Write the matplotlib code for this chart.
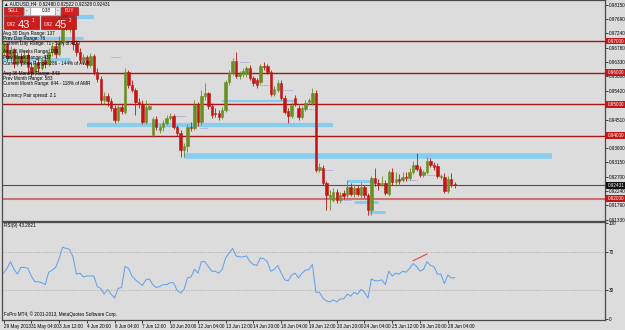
import numpy as np
import matplotlib.pyplot as plt
import matplotlib.transforms as mtransforms
from matplotlib.patches import Rectangle

# AUDUSD H4 candles, 29 May - 28 Jun 2013
opens = [0.9665, 0.9691, 0.9646, 0.9672, 0.9630, 0.9652, 0.9633, 0.9656, 0.9618, 0.9602,
         0.9630, 0.9614, 0.9640, 0.9627, 0.9665, 0.9684, 0.9659, 0.9697, 0.9786, 0.9748,
         0.9773, 0.9691, 0.9665, 0.9640, 0.9649, 0.9624, 0.9652, 0.9602, 0.9580, 0.9513,
         0.9526, 0.9510, 0.9488, 0.9450, 0.9491, 0.9475, 0.9602, 0.9561, 0.9545, 0.9507,
         0.9500, 0.9443, 0.9485, 0.9402, 0.9453, 0.9418, 0.9427, 0.9440, 0.9456, 0.9462,
         0.9427, 0.9408, 0.9355, 0.9367, 0.9427, 0.9424, 0.9497, 0.9443, 0.9526, 0.9535,
         0.9494, 0.9472, 0.9472, 0.9459, 0.9481, 0.9570, 0.9599, 0.9637, 0.9589, 0.9595,
         0.9595, 0.9614, 0.9583, 0.9576, 0.9570, 0.9621, 0.9621, 0.9602, 0.9532, 0.9545,
         0.9567, 0.9519, 0.9478, 0.9462, 0.9519, 0.9488, 0.9459, 0.9485, 0.9507, 0.9504,
         0.9535, 0.9291, 0.9297, 0.9250, 0.9206, 0.9196, 0.9221, 0.9196, 0.9218, 0.9212,
         0.9237, 0.9215, 0.9234, 0.9212, 0.9237, 0.9212, 0.9164, 0.9266, 0.9250, 0.9247,
         0.9250, 0.9215, 0.9285, 0.9253, 0.9263, 0.9259, 0.9269, 0.9266, 0.9285, 0.9307,
         0.9294, 0.9275, 0.9285, 0.9320, 0.9307, 0.9304, 0.9269, 0.9269, 0.9225, 0.9263,
         0.9248]
highs = [0.9703, 0.9697, 0.9684, 0.9678, 0.9665, 0.9662, 0.9672, 0.9665, 0.9633, 0.9640,
         0.9646, 0.9652, 0.9656, 0.9678, 0.9703, 0.9697, 0.9716, 0.9805, 0.9811, 0.9798,
         0.9792, 0.9703, 0.9678, 0.9659, 0.9656, 0.9662, 0.9659, 0.9614, 0.9589, 0.9538,
         0.9535, 0.9519, 0.9497, 0.9500, 0.9500, 0.9614, 0.9608, 0.9576, 0.9551, 0.9519,
         0.9513, 0.9513, 0.9504, 0.9459, 0.9462, 0.9437, 0.9450, 0.9465, 0.9472, 0.9469,
         0.9434, 0.9418, 0.9377, 0.9437, 0.9443, 0.9513, 0.9507, 0.9545, 0.9567, 0.9538,
         0.9504, 0.9488, 0.9481, 0.9491, 0.9576, 0.9608, 0.9646, 0.9665, 0.9605, 0.9614,
         0.9621, 0.9624, 0.9589, 0.9583, 0.9627, 0.9633, 0.9627, 0.9608, 0.9557, 0.9576,
         0.9576, 0.9529, 0.9488, 0.9507, 0.9529, 0.9497, 0.9494, 0.9513, 0.9519, 0.9551,
         0.9545, 0.9313, 0.9307, 0.9256, 0.9228, 0.9234, 0.9231, 0.9221, 0.9228, 0.9259,
         0.9250, 0.9247, 0.9244, 0.9253, 0.9244, 0.9218, 0.9272, 0.9297, 0.9263, 0.9272,
         0.9259, 0.9291, 0.9297, 0.9285, 0.9278, 0.9285, 0.9285, 0.9297, 0.9320, 0.9345,
         0.9304, 0.9291, 0.9332, 0.9329, 0.9316, 0.9313, 0.9278, 0.9282, 0.9272, 0.9282,
         0.92522]
lows = [0.9652, 0.9633, 0.9633, 0.9614, 0.9621, 0.9621, 0.9627, 0.9602, 0.9583, 0.9592,
        0.9602, 0.9608, 0.9614, 0.9621, 0.9652, 0.9646, 0.9652, 0.9684, 0.9735, 0.9729,
        0.9672, 0.9652, 0.9630, 0.9627, 0.9614, 0.9618, 0.9592, 0.9570, 0.9500, 0.9500,
        0.9494, 0.9478, 0.9440, 0.9443, 0.9469, 0.9469, 0.9551, 0.9538, 0.9465, 0.9488,
        0.9437, 0.9437, 0.9481, 0.9396, 0.9418, 0.9408, 0.9415, 0.9434, 0.9450, 0.9421,
        0.9399, 0.9332, 0.9332, 0.9348, 0.9415, 0.9418, 0.9431, 0.9434, 0.9513, 0.9485,
        0.9456, 0.9459, 0.9450, 0.9453, 0.9475, 0.9561, 0.9592, 0.9583, 0.9580, 0.9586,
        0.9586, 0.9576, 0.9557, 0.9551, 0.9564, 0.9608, 0.9595, 0.9526, 0.9526, 0.9538,
        0.9513, 0.9469, 0.9440, 0.9456, 0.9494, 0.9450, 0.9453, 0.9478, 0.9500, 0.9497,
        0.9285, 0.9285, 0.9244, 0.9164, 0.9164, 0.9190, 0.9186, 0.9186, 0.9199, 0.9202,
        0.9209, 0.9206, 0.9209, 0.9202, 0.9202, 0.9148, 0.9148, 0.9240, 0.9228, 0.9240,
        0.9212, 0.9209, 0.9244, 0.9240, 0.9247, 0.9253, 0.9256, 0.9259, 0.9278, 0.9288,
        0.9269, 0.9269, 0.9278, 0.9301, 0.9291, 0.9266, 0.9263, 0.9218, 0.9218, 0.9237,
        0.92328]
closes = [0.9691, 0.9646, 0.9672, 0.9630, 0.9652, 0.9633, 0.9656, 0.9618, 0.9602, 0.9630,
          0.9614, 0.9640, 0.9627, 0.9665, 0.9684, 0.9659, 0.9697, 0.9786, 0.9748, 0.9773,
          0.9691, 0.9665, 0.9640, 0.9649, 0.9624, 0.9652, 0.9602, 0.9580, 0.9513, 0.9526,
          0.9510, 0.9488, 0.9450, 0.9491, 0.9478, 0.9602, 0.9561, 0.9545, 0.9507, 0.9500,
          0.9443, 0.9491, 0.9494, 0.9453, 0.9427, 0.9427, 0.9440, 0.9456, 0.9462, 0.9427,
          0.9408, 0.9355, 0.9367, 0.9427, 0.9424, 0.9497, 0.9443, 0.9526, 0.9535, 0.9494,
          0.9465, 0.9469, 0.9459, 0.9481, 0.9570, 0.9599, 0.9637, 0.9589, 0.9595, 0.9605,
          0.9614, 0.9583, 0.9567, 0.9561, 0.9621, 0.9618, 0.9602, 0.9532, 0.9548, 0.9567,
          0.9519, 0.9475, 0.9462, 0.9497, 0.9500, 0.9459, 0.9488, 0.9504, 0.9513, 0.9535,
          0.9291, 0.9301, 0.9250, 0.9212, 0.9212, 0.9221, 0.9196, 0.9212, 0.9209, 0.9237,
          0.9215, 0.9234, 0.9215, 0.9237, 0.9212, 0.9164, 0.9266, 0.9250, 0.9247, 0.9250,
          0.9218, 0.9285, 0.9253, 0.9263, 0.9256, 0.9269, 0.9266, 0.9285, 0.9307, 0.9294,
          0.9275, 0.9285, 0.9320, 0.9307, 0.9301, 0.9272, 0.9272, 0.9225, 0.9263, 0.9247,
          0.92431]

rsi = [48, 53, 60, 52, 47, 54, 54, 53, 45, 39,
       39, 38, 36, 49, 51, 54, 63, 75, 74, 73,
       65, 47, 48, 44, 45, 45, 45, 34, 32, 26,
       31, 26, 22, 32, 33, 55, 53, 45, 41, 38,
       35, 41, 42, 36, 33, 34, 36, 36, 38, 38,
       30, 27, 31, 43, 44, 52, 48, 60, 60, 55,
       50, 50, 48, 52, 64, 69, 74, 66, 65, 65,
       66, 60, 57, 56, 64, 63, 60, 50, 52, 56,
       48, 41, 40, 46, 48, 43, 48, 51, 52, 57,
       28, 28, 22, 19, 18, 20, 18, 21, 21, 26,
       24, 28, 26, 31, 28, 22, 42, 40, 40, 41,
       36, 50, 45, 48, 47, 50, 49, 53, 58, 55,
       50, 52, 60, 56, 55, 47, 47, 37, 46, 43,
       43.2821]

tick_bars = list(range(0, 129, 8))
tick_labels = ['29 May 2013', '31 May 04:00', '3 Jun 12:00', '4 Jun 20:00', '6 Jun 04:00',
               '7 Jun 12:00', '10 Jun 20:00', '12 Jun 04:00', '13 Jun 12:00', '14 Jun 20:00',
               '18 Jun 04:00', '19 Jun 12:00', '20 Jun 20:00', '24 Jun 04:00', '25 Jun 12:00',
               '26 Jun 20:00', '28 Jun 04:00']

price_ticks = [0.98150, 0.97690, 0.97240, 0.96780, 0.96330, 0.95880, 0.95420,
               0.94510, 0.93600, 0.93150, 0.92700, 0.92240, 0.91790, 0.91330]
red_levels = [0.97, 0.96, 0.95, 0.94]
support_level = 0.92
last_price = 0.92431

# blue range zones: price, from bar, to bar, width
zones = [(0.9776, 16, 26, 3.0), (0.9710, -1, 23, 2.2), (0.9643, -1, 19, 2.2),
         (0.9434, 24, 95, 3.0), (0.9510, 63, 84, 1.5), (0.9335, 52, 158, 4.0),
         (0.9256, 99, 107, 2.2), (0.9190, 101, 108, 2.2), (0.9158, 105, 110, 2.2)]
pivots = [(0.9633, 68, 71), (0.9561, 74, 76.5), (0.9545, 80.5, 83), (0.9481, 63, 65),
          (0.9462, 49, 52.5), (0.9424, 56.5, 59), (0.9485, 88, 89.5), (0.9291, 92, 95),
          (0.9196, 97, 100), (0.9259, 116.5, 119), (0.9275, 122, 125.5), (0.9649, 31, 33.5)]

info_lines = [(33, 'Avg 30 Days Range: 137'), (38.5, 'Prev Day Range: 76'),
              (44, 'Current Day Range: 71 - 51% of ADR'), (52, 'Avg 26 Weeks Range: 198'),
              (57.5, 'Prev Week Range: 437'), (63, 'Current Week Range: 286 - 144% of AWR'),
              (73, 'Avg 36 Months Range: 843'), (78.5, 'Prev Month Range: 583'),
              (84, 'Current Month Range: 644 - 118% of AMR'), (95, 'Currency Pair spread: 2.1')]

bg = '#dcdcdc'
fs = 3.3
plt.rcParams['font.family'] = ['Liberation Sans', 'DejaVu Sans']

fig = plt.figure(figsize=(6.25, 3.3), dpi=100)
fig.patch.set_facecolor(bg)
ax = fig.add_axes([2 / 625, 1 - 221 / 330, 603 / 625, 221 / 330])
ax2 = fig.add_axes([2 / 625, 10 / 330, 603 / 625, 98 / 330], sharex=ax)

for a in (ax, ax2):
    a.set_facecolor(bg)
    for s in a.spines.values():
        s.set_color('#4a4a4a')
        s.set_linewidth(0.9)

x = np.arange(len(opens))
o = np.array(opens)
c = np.array(closes)
col = np.where(c >= o, '#6b8e23', '#c41414')

for lvl, x0, x1, w in zones:
    ax.hlines(lvl, x0, x1, color='#87cdf0', lw=w, zorder=1)
for lvl, x0, x1 in pivots:
    ax.hlines(lvl, x0, x1, color='#8a8ad8', lw=0.6, linestyles=(0, (1, 1)), zorder=1)

for lvl in red_levels:
    ax.axhline(lvl, color='#a51515', lw=1.0, zorder=2)
ax.axhline(support_level, color='#d07070', lw=1.5, zorder=2)
ax.axhline(last_price, color='#505050', lw=0.8, zorder=2)

ax.vlines(x, lows, highs, colors=col, lw=0.6, zorder=3)
ax.bar(x, np.abs(c - o), bottom=np.minimum(o, c), width=0.7, color=col,
       edgecolor=col, linewidth=0.4, zorder=4)

ax.set_xlim(-0.45, 173.3)
ax.set_ylim(0.91294, 0.9830)
ax.yaxis.tick_right()
ax.set_yticks(price_ticks)
ax.set_yticklabels([f'{v:.5f}' for v in price_ticks], fontsize=fs)
ax.tick_params(axis='y', length=2, width=0.5, pad=1)
ax.tick_params(axis='x', bottom=False, labelbottom=False)

trans = mtransforms.blended_transform_factory(ax.transAxes, ax.transData)
for lvl in red_levels + [support_level]:
    ax.text(1.004, lvl, f'{lvl:.5f}', transform=trans, fontsize=fs, color='white',
            va='center', ha='left', clip_on=False,
            bbox=dict(boxstyle='square,pad=0.2', fc='#c41818', ec='none'))
ax.text(1.004, last_price, f'{last_price:.5f}', transform=trans, fontsize=fs, color='white',
        va='center', ha='left', clip_on=False,
        bbox=dict(boxstyle='square,pad=0.2', fc='#111111', ec='none'))

# RSI pane
ax2.plot(x, rsi, color='#5b9ff0', lw=0.7)
ax2.plot([118, 122], [61, 68], color='#e04848', lw=0.8)
for lv in (70, 30):
    ax2.axhline(lv, color='#a8a8a8', lw=0.5, ls=(0, (2, 2)))
ax2.set_ylim(-1, 101.5)
ax2.yaxis.tick_right()
ax2.set_yticks([0, 30, 70, 100])
ax2.set_yticklabels(['0', '30', '70', '100'], fontsize=fs)
ax2.tick_params(axis='y', length=2, width=0.5, pad=1)
ax2.set_xticks(tick_bars)
ax2.set_xticklabels(tick_labels, fontsize=fs, ha='left')
ax2.tick_params(axis='x', length=2, width=0.5, pad=1)
ax2.text(0.004, 0.985, 'RSI(9) 43.2821', transform=ax2.transAxes, fontsize=fs, va='top')
ax2.text(0.004, 0.03, 'FxPro MT4, \u00a9 2001-2013, MetaQuotes Software Corp.',
         transform=ax2.transAxes, fontsize=fs, va='bottom')

# overlay for the trade panel and info text
ov = fig.add_axes([0, 0, 1, 1], zorder=10)
ov.set_xlim(0, 625)
ov.set_ylim(330, 0)
ov.axis('off')

ov.text(4, 3.5, '\u25b2 AUDUSD,H4  0.92480 0.92522 0.92328 0.92431', fontsize=fs, va='center')
ov.add_patch(Rectangle((4, 7), 19, 8, fc='#d02020', ec='#8a1010', lw=0.4))
ov.text(13.5, 11, 'SELL', color='white', fontsize=fs, ha='center', va='center')
ov.add_patch(Rectangle((24, 7), 6, 8, fc='#e6e6e6', ec='#909090', lw=0.4))
ov.text(27, 11, '-', fontsize=fs, ha='center', va='center')
ov.add_patch(Rectangle((30, 7), 25, 8, fc='white', ec='#909090', lw=0.4))
ov.text(51, 11, '0.38', fontsize=fs, ha='right', va='center')
ov.add_patch(Rectangle((55, 7), 5, 8, fc='#e6e6e6', ec='#909090', lw=0.4))
ov.text(57.5, 11, '-', fontsize=fs, ha='center', va='center')
ov.add_patch(Rectangle((61, 7), 17, 8, fc='#d02020', ec='#8a1010', lw=0.4))
ov.text(69.5, 11, 'BUY', color='white', fontsize=fs, ha='center', va='center')
for bx, big, small in ((4, '43', '1'), (41, '45', '2')):
    ov.add_patch(Rectangle((bx, 16), 35, 13, fc='#cc1c1c', ec='#8a1010', lw=0.4))
    ov.text(bx + 3, 25.5, '0.92', color='white', fontsize=fs, va='baseline')
    ov.text(bx + 14, 27.5, big, color='white', fontsize=8, va='baseline')
    ov.text(bx + 28, 21, small, color='white', fontsize=fs, va='center')

for yy, t in info_lines:
    ov.text(3, yy, t, fontsize=fs, va='center', color='black')

fig.savefig('out.png', dpi=100, facecolor=bg)
